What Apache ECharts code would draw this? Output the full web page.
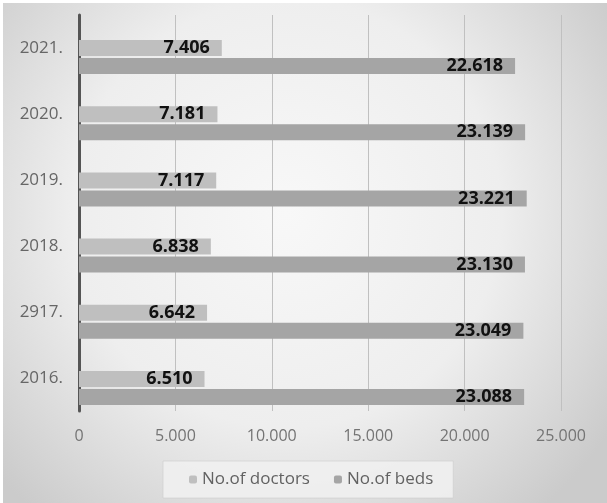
<!DOCTYPE html>
<html>
<head>
<meta charset="utf-8">
<script src="https://cdn.jsdelivr.net/npm/echarts@6/dist/echarts.min.js"></script>
<style>
  html, body { margin: 0; padding: 0; background: #ffffff; }
  #chart { position: absolute; left: 3px; top: 3px; width: 604px; height: 500px; }
</style>
</head>
<body>
<div id="chart"></div>
<script>
// Years (bottom to top) and the two series
const years = ['2016.', '2917.', '2018.', '2019.', '2020.', '2021.'];
const doctors = [6510, 6642, 6838, 7117, 7181, 7406];
const beds = [23088, 23049, 23130, 23221, 23139, 22618];
const seriesNames = ['No.of doctors', 'No.of beds'];
const xTicks = [0, 5000, 10000, 15000, 20000, 25000];

// thousands separated with a period
function fmt(v) {
  return String(v).replace(/\B(?=(\d{3})+(?!\d))/g, '.');
}

const chart = echarts.init(document.getElementById('chart'));
const labelFont = 'Open Sans, Liberation Sans, sans-serif';

chart.setOption({
  backgroundColor: {
    type: 'radial', x: 0.47, y: 0.42, r: 0.78,
    colorStops: [
      { offset: 0, color: '#f8f8f8' },
      { offset: 0.55, color: '#eeeeee' },
      { offset: 1, color: '#cbcbcb' }
    ]
  },
  animation: false,
  legend: {
    data: seriesNames,
    bottom: 5,
    left: 160,
    itemWidth: 8,
    itemHeight: 8,
    itemGap: 24,
    padding: [10, 20, 10, 26],
    backgroundColor: 'rgba(240,240,240,0.9)',
    borderColor: 'rgba(205,205,205,0.6)',
    borderWidth: 1,
    textStyle: { color: '#626262', fontSize: 17, fontFamily: labelFont }
  },
  grid: [
    // frame: axis line, gridlines, tick labels
    { left: 76, right: 46, top: 12, bottom: 92 },
    // bars
    { left: 76, right: 46, top: 21, bottom: 82 }
  ],
  xAxis: [
    {
      gridIndex: 0, type: 'value', min: 0, max: 25000, interval: 5000,
      axisLine: { show: false }, axisTick: { show: false },
      splitLine: { lineStyle: { color: '#c0c0c0', width: 1 } },
      axisLabel: {
        formatter: fmt, margin: 17, color: '#747474', fontSize: 16, fontFamily: labelFont
      }
    },
    {
      gridIndex: 1, type: 'value', min: 0, max: 25000, show: false
    }
  ],
  yAxis: [
    {
      gridIndex: 0, type: 'category', data: years,
      axisLine: { lineStyle: { color: '#555555', width: 3 } },
      axisTick: { show: false },
      axisLabel: { margin: 16, color: '#666666', fontSize: 17, fontFamily: labelFont }
    },
    {
      gridIndex: 1, type: 'category', data: years, show: false
    }
  ],
  series: [
    {
      name: seriesNames[0], type: 'bar', data: doctors,
      xAxisIndex: 1, yAxisIndex: 1,
      barWidth: 16, barGap: '12%',
      itemStyle: { color: '#bfbfbf' },
      label: {
        show: true, position: 'insideRight', distance: 12,
        formatter: p => fmt(p.value),
        color: '#111111', fontWeight: 'bold', fontSize: 18, fontFamily: labelFont
      }
    },
    {
      name: seriesNames[1], type: 'bar', data: beds,
      xAxisIndex: 1, yAxisIndex: 1,
      barWidth: 16, barGap: '12%',
      itemStyle: { color: '#a5a5a5' },
      label: {
        show: true, position: 'insideRight', distance: 12,
        formatter: p => fmt(p.value),
        color: '#111111', fontWeight: 'bold', fontSize: 18, fontFamily: labelFont
      }
    }
  ]
});
</script>
</body>
</html>
